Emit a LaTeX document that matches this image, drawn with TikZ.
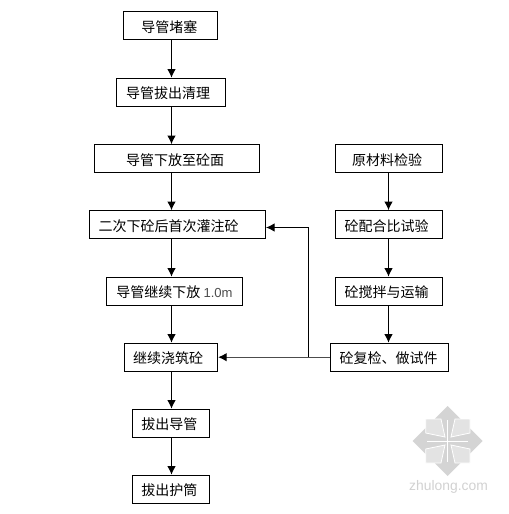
\documentclass[tikz,border=0pt]{standalone}
\usepackage{fontspec}
\usetikzlibrary{arrows.meta}
\setmainfont{Noto Sans CJK SC}
\newfontfamily\latinfont{Liberation Sans}

\begin{document}
\begin{tikzpicture}[>={Latex[length=6.5pt,width=6.5pt]},x=0.75pt,y=-0.75pt,
  every node/.style={font=\fontsize{10.5}{12}\selectfont},
  flowbox/.style={draw,line width=0.8pt,inner sep=0pt,minimum height=21pt,text height=10pt,text depth=0pt},
  flowline/.style={->,line width=0.8pt},
  returnline/.style={-{Latex[length=6.5pt,width=6.5pt,black]},line width=1pt,black!70},
  markfill/.style={fill=black!17,draw=none},
  marksquare/.style={fill=black!11,draw=white,line width=0.6pt}]
\useasboundingbox (0,0) rectangle (509,514);

% Watermark
\fill[markfill] (447.7,406) -- (482.7,441) -- (447.7,476) -- (412.7,441) -- cycle;
\fill[marksquare] (425.7,419) -- (441,419) -- (445,437) -- (425.7,433) -- cycle;
\fill[marksquare] (470,419) -- (455,419) -- (451,437) -- (470,433) -- cycle;
\fill[marksquare] (425.7,463) -- (441,463) -- (445,445) -- (425.7,449) -- cycle;
\fill[marksquare] (470,463) -- (455,463) -- (451,445) -- (470,449) -- cycle;
\draw[white,line width=0.6pt] (447.7,420) -- (447.7,462);
\draw[white,line width=0.6pt] (427,441) -- (468,441);
\node[text=black!18,font=\latinfont\fontsize{10.4}{12}\selectfont] (watermark) at (448.5,486.5) {zhulong.com};

% Column axes
\coordinate (leftaxis) at (171.5,0);
\coordinate (rightaxis) at (388.5,0);

% Left column
\node[flowbox,minimum width=70.5pt] (duse) at (170.5,25.5) {导管堵塞\hspace*{1.7pt}};
\node[flowbox,minimum width=81.4pt] (bachu) at (171.2,92.2) {导管拔出清理\hspace*{4.5pt}};
\node[flowbox,minimum width=123.8pt] (xiafang) at (177,158.7) {导管下放至砼面\hspace*{3pt}};
\node[flowbox,minimum width=132pt] (guanzhu) at (177.5,224.7) {二次下砼后首次灌注砼\hspace*{13.5pt}};
\node[flowbox,minimum width=102pt] (jixu) at (174.5,291.2) {导管继续下放 {\latinfont\color{black!70}\fontsize{9.8}{12}\selectfont 1.0m}};
\node[flowbox,minimum width=69.8pt] (jiaozhu) at (171,357.2) {继续浇筑砼\hspace*{4.5pt}};
\node[flowbox,minimum width=57.8pt] (daoguan) at (171,423.2) {拔出导管\hspace*{2.4pt}};
\node[flowbox,minimum width=57.8pt] (hutong) at (171,489.2) {拔出护筒\hspace*{2.4pt}};

% Right column
\node[flowbox,minimum width=80.3pt] (yuancai) at (389,158.7) {原材料检验\hspace*{3pt}};
\node[flowbox,minimum width=80.3pt] (peihe) at (389,224.7) {砼配合比试验\hspace*{3.6pt}};
\node[flowbox,minimum width=80.3pt] (jiaoban) at (389,291.2) {砼搅拌与运输\hspace*{3.6pt}};
\node[flowbox,minimum width=88.5pt] (fujian) at (389.5,357.2) {砼复检、做试件\hspace*{1.5pt}};

% Flow arrows
\draw[flowline] (duse.south -| leftaxis) -- (bachu.north -| leftaxis);
\draw[flowline] (bachu.south -| leftaxis) -- (xiafang.north -| leftaxis);
\draw[flowline] (xiafang.south -| leftaxis) -- (guanzhu.north -| leftaxis);
\draw[flowline] (guanzhu.south -| leftaxis) -- (jixu.north -| leftaxis);
\draw[flowline] (jixu.south -| leftaxis) -- (jiaozhu.north -| leftaxis);
\draw[flowline] (jiaozhu.south -| leftaxis) -- (daoguan.north -| leftaxis);
\draw[flowline] (daoguan.south -| leftaxis) -- (hutong.north -| leftaxis);
\draw[flowline] (yuancai.south -| rightaxis) -- (peihe.north -| rightaxis);
\draw[flowline] (peihe.south -| rightaxis) -- (jiaoban.north -| rightaxis);
\draw[flowline] (jiaoban.south -| rightaxis) -- (fujian.north -| rightaxis);

% Return lines
\coordinate (branch) at (308.5,357.2);
\coordinate (corner) at (308.5,227.5);
\draw[returnline] (fujian.west) -- (jiaozhu.east);
\draw[flowline] (branch) -- (corner) -- (guanzhu.east |- corner);
\end{tikzpicture}
\end{document}
